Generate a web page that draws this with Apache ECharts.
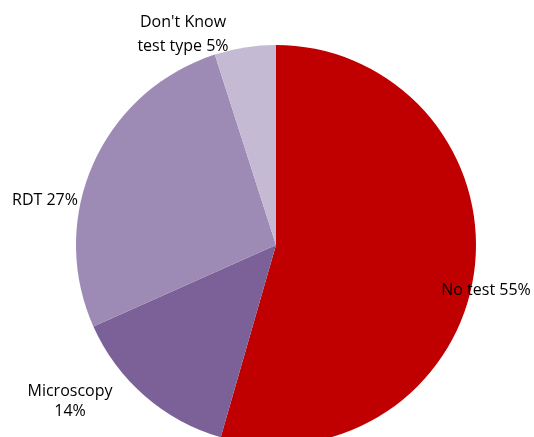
<!DOCTYPE html>
<html>
<head>
<meta charset="utf-8">
<script src="https://cdn.jsdelivr.net/npm/echarts@6/dist/echarts.min.js"></script>
<style>
  html, body { margin: 0; padding: 0; background: #fff; }
  #chart { width: 534px; height: 437px; }
</style>
</head>
<body>
<div id="chart"></div>
<script>
// slices, clockwise from 12 o'clock
const categories = ['No test', 'Microscopy', 'RDT', "Don't Know test type"];
const values = [55, 14, 27, 5];
const labelTexts = ['No test 55%', 'Microscopy\n14%', 'RDT 27%', "Don't Know\ntest type 5%"];

const colors = ['#C00000', '#7B6198', '#9E8BB5', '#C4BAD4'];
// where each label sits (centre of text block)
const labelSpots = [
  { x: 486, y: 290, lh: 20 },
  { x: 70, y: 401, lh: 20 },
  { x: 45, y: 200, lh: 20 },
  { x: 183, y: 34, lh: 24 }
];

const chart = echarts.init(document.getElementById('chart'));

chart.setOption({
  backgroundColor: '#fff',
  animation: false,
  series: [{
    type: 'pie',
    center: [276, 245],
    radius: 200,
    startAngle: 90,
    clockwise: true,
    avoidLabelOverlap: false,
    label: {
      show: true,
      position: 'inside',
      color: '#000',
      fontFamily: 'Open Sans',
      fontSize: 16,
      align: 'center',
      overflow: 'none',
      formatter: p => labelTexts[p.dataIndex]
    },
    labelLine: { show: false },
    labelLayout: p => {
      const s = labelSpots[p.dataIndex];
      return { x: s.x, y: s.y, align: 'center', verticalAlign: 'middle', hideOverlap: false };
    },
    itemStyle: { borderWidth: 0 },
    data: categories.map((c, i) => ({
      name: c,
      value: values[i],
      itemStyle: { color: colors[i] },
      label: { lineHeight: labelSpots[i].lh }
    }))
  }]
});
</script>
</body>
</html>
